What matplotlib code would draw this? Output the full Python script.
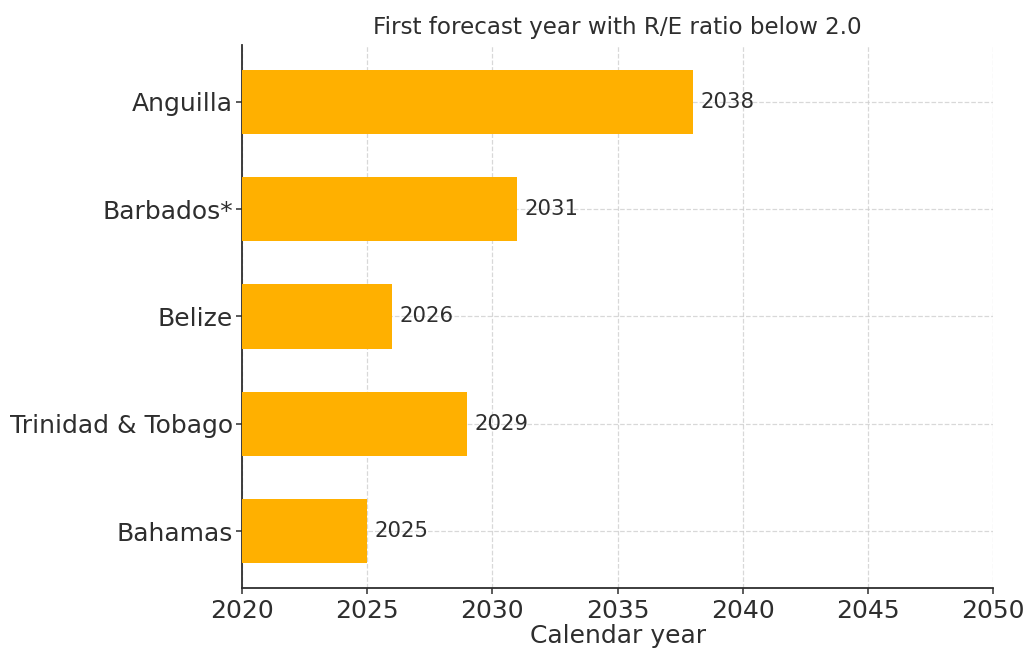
import matplotlib
matplotlib.use("Agg")
import matplotlib.pyplot as plt

countries = ["Bahamas", "Trinidad & Tobago", "Belize", "Barbados*", "Anguilla"]
first_year = [2025, 2029, 2026, 2031, 2038]
base_year = 2020
x_ticks = [2020, 2025, 2030, 2035, 2040, 2045, 2050]

plt.rcParams["font.family"] = "DejaVu Sans"
text_color = "#2e2e2e"

fig = plt.figure(figsize=(10.29, 6.51), dpi=100)
ax = fig.add_axes([0.2352, 0.0968, 0.7300, 0.8341])

spans = [y - base_year for y in first_year]
ax.barh(countries, spans, left=base_year, height=0.6, color="#FFB000", zorder=3)

for i, y in enumerate(first_year):
    ax.text(y + 0.3, i, str(y), va="center", ha="left", fontsize=15.3,
            color=text_color, zorder=4)

ax.set_xlim(2020, 2050)
ax.set_xticks(x_ticks)
ax.tick_params(axis="both", labelsize=18, colors=text_color, length=4.5, width=1.1)
ax.tick_params(axis="y", pad=2)
ax.set_xlabel("Calendar year", fontsize=18, color=text_color, labelpad=0.5)
ax.set_title("First forecast year with R/E ratio below 2.0", fontsize=16.6,
             color=text_color, pad=8)

ax.grid(True, linestyle="--", color="#cccccc", linewidth=0.9, alpha=0.75, zorder=0)
ax.set_axisbelow(True)
for side in ("top", "right"):
    ax.spines[side].set_visible(False)
for side in ("left", "bottom"):
    ax.spines[side].set_color(text_color)
    ax.spines[side].set_linewidth(1.3)

fig.savefig("out.png", dpi=100)
